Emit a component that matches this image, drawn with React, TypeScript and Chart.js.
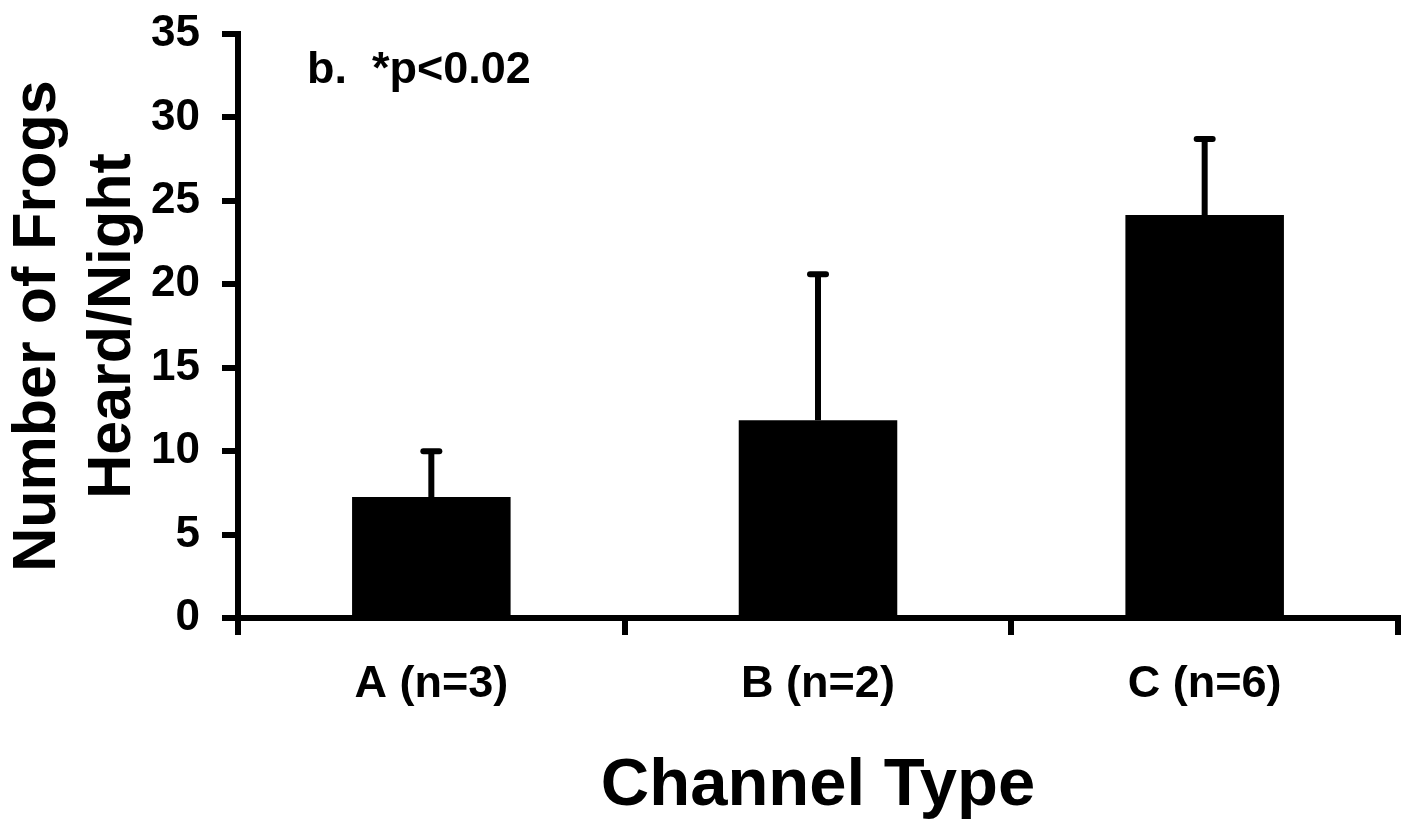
import React, { useEffect, useRef } from 'react';
import { Chart, registerables } from 'chart.js';

Chart.register(...registerables);

const categories = ['A (n=3)', 'B (n=2)', 'C (n=6)'];
const meanFrogs = [7.25, 11.85, 24.15];
const errorFrogs = [2.75, 8.75, 4.55];
const yTicks = [0, 5, 10, 15, 20, 25, 30, 35];
const xTitle = 'Channel Type';
const yTitle = ['Number of Frogs', 'Heard/Night'];
const annotation = 'b.  *p<0.02';

const FONT = '"Liberation Sans", Arial, Helvetica, sans-serif';

export default function App() {
  const ref = useRef<HTMLCanvasElement>(null);

  useEffect(() => {
    document.body.style.margin = '0';
    const canvas = ref.current;
    if (!canvas) return;

    const errorBars = {
      id: 'errorBars',
      afterDatasetsDraw(chart: any) {
        const ctx = chart.ctx;
        const meta = chart.getDatasetMeta(0);
        const yScale = chart.scales.y;
        ctx.save();
        ctx.strokeStyle = '#000';
        ctx.lineWidth = 6;
        meta.data.forEach((bar: any, i: number) => {
          const x = bar.x;
          const yBase = yScale.getPixelForValue(meanFrogs[i]);
          const yTop = yScale.getPixelForValue(meanFrogs[i] + errorFrogs[i]);
          ctx.lineCap = 'butt';
          ctx.beginPath();
          ctx.moveTo(x, yBase);
          ctx.lineTo(x, yTop);
          ctx.stroke();
          ctx.lineCap = 'round';
          ctx.beginPath();
          ctx.moveTo(x - 8, yTop);
          ctx.lineTo(x + 8, yTop);
          ctx.stroke();
        });
        ctx.restore();
      },
    };

    const note = {
      id: 'note',
      afterDraw(chart: any) {
        const ctx = chart.ctx;
        const area = chart.chartArea;
        ctx.save();
        ctx.font = `bold 45px ${FONT}`;
        ctx.fillStyle = '#000';
        ctx.textAlign = 'left';
        ctx.textBaseline = 'alphabetic';
        ctx.fillText(annotation, area.left + 69, area.top + 49);
        ctx.restore();
      },
    };

    const chart = new Chart(canvas, {
      type: 'bar',
      data: {
        labels: categories,
        datasets: [
          {
            data: meanFrogs,
            backgroundColor: '#000',
            borderWidth: 0,
            barPercentage: 0.41,
            categoryPercentage: 1,
          },
        ],
      },
      options: {
        responsive: false,
        animation: false,
        layout: { padding: { top: 34, right: 3, bottom: 0, left: 0 } },
        plugins: {
          legend: { display: false },
          tooltip: { enabled: false },
        },
        scales: {
          x: {
            offset: true,
            grid: {
              display: true,
              offset: true,
              drawOnChartArea: false,
              drawTicks: true,
              tickLength: 17,
              lineWidth: 6,
              color: '#000',
            },
            border: { display: true, width: 6, color: '#000' },
            ticks: {
              color: '#000',
              padding: 23,
              font: { family: FONT, size: 45, weight: 'bold' },
              maxRotation: 0,
              autoSkip: false,
            },
            title: {
              display: true,
              text: xTitle,
              color: '#000',
              font: { family: FONT, size: 67, weight: 'bold', lineHeight: 1 },
              padding: { top: 0, bottom: 1 },
            },
            afterFit(scale: any) {
              scale.height = 203;
              scale.paddingLeft = 0;
              scale.paddingRight = 0;
            },
          },
          y: {
            min: 0,
            max: 35,
            afterBuildTicks(scale: any) {
              scale.ticks = yTicks.map((v) => ({ value: v }));
            },
            grid: {
              display: true,
              drawOnChartArea: false,
              drawTicks: true,
              tickLength: 16,
              lineWidth: 6,
              color: '#000',
            },
            border: { display: true, width: 6, color: '#000' },
            ticks: {
              color: '#000',
              padding: 22,
              font: { family: FONT, size: 44, weight: 'bold' },
            },
            title: {
              display: true,
              text: yTitle,
              color: '#000',
              font: { family: FONT, size: 61, weight: 'bold', lineHeight: 1.23 },
              padding: { top: 1, bottom: 0 },
            },
            afterFit(scale: any) {
              scale.width = 238;
              scale.paddingTop = 0;
              scale.paddingBottom = 0;
            },
          },
        },
      },
      plugins: [errorBars, note],
    });

    return () => chart.destroy();
  }, []);

  return (
    <canvas
      ref={ref}
      width={1401}
      height={821}
      style={{ display: 'block', position: 'absolute', left: 0, top: 0, width: 1401, height: 821 }}
    />
  );
}
